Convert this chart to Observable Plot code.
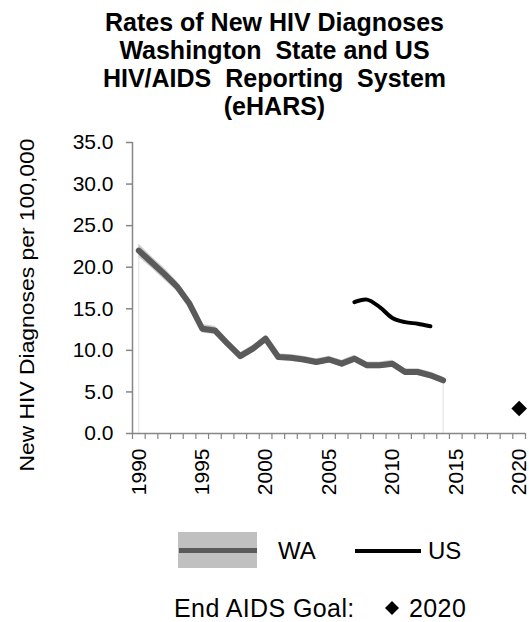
<!DOCTYPE html>
<html>
<head>
<meta charset="utf-8">
<script src="https://cdn.jsdelivr.net/npm/d3@7"></script>
<script src="https://cdn.jsdelivr.net/npm/@observablehq/plot@0.6"></script>
<style>
  html, body { margin: 0; padding: 0; background: #fff; overflow: hidden; }
  #wrap { position: relative; width: 529px; height: 622px; font-family: "Liberation Sans", Arial, sans-serif; color: #000; }
  #title { position: absolute; left: 10px; top: 8px; width: 529px; text-align: center; font-weight: bold; font-size: 25px; line-height: 28px; white-space: pre; }
  #chart { position: absolute; left: 0; top: 120px; }
  .leg { position: absolute; font-size: 24px; line-height: 24px; white-space: pre; }
  .leg2 { position: absolute; font-size: 25px; line-height: 25px; white-space: pre; letter-spacing: 0.4px; }
</style>
</head>
<body>
<div id="wrap">
  <div id="title"></div>
  <div id="chart"></div>
  <div id="legend"></div>
</div>
<script>
// ---- data ----
const titleLines = ["Rates of New HIV Diagnoses", "Washington  State and US", "HIV/AIDS  Reporting  System", "(eHARS)"];
const yLabel = "New HIV Diagnoses per 100,000";
const waYears = [1990,1991,1992,1993,1994,1995,1996,1997,1998,1999,2000,2001,2002,2003,2004,2005,2006,2007,2008,2009,2010,2011,2012,2013,2014];
const waRate  = [22.0,20.6,19.2,17.7,15.6,12.6,12.4,10.8,9.3,10.2,11.4,9.2,9.1,8.9,8.6,8.9,8.4,9.0,8.2,8.2,8.4,7.4,7.4,7.0,6.4];
const waLow   = [21.2,19.9,18.5,17.1,15.1,12.1,11.9,10.4,8.9,9.8,11.0,8.8,8.7,8.5,8.2,8.5,8.0,8.6,7.8,7.8,8.0,7.0,7.0,6.6,6.0];
const waHigh  = [22.8,21.3,19.9,18.3,16.1,13.1,12.9,11.2,9.7,10.6,11.8,9.6,9.5,9.3,9.0,9.3,8.8,9.4,8.6,8.6,8.8,7.8,7.8,7.4,6.8];
const usYears = [2007,2008,2009,2010,2011,2012,2013];
const usRate  = [15.8,16.1,15.2,13.9,13.4,13.2,12.9];
const goalYear = [2020];
const goalRate = [3.0];
const yTicks = [0,5,10,15,20,25,30,35];
const xTickLabels = [1990,1995,2000,2005,2010,2015,2020];
const legendLabels = {wa: "WA", us: "US", goal: "End AIDS Goal:", goalYear: "2020"};

// ---- tables ----
const wa = waYears.map((y, i) => ({year: y, rate: waRate[i], lo: waLow[i], hi: waHigh[i]}));
const us = usYears.map((y, i) => ({year: y, rate: usRate[i]}));
const goal = goalYear.map((y, i) => ({year: y, rate: goalRate[i]}));
const xMin = d3.min(waYears) - 0.5;
const xMax = d3.max(xTickLabels) + 0.5;
const boundaries = d3.range(xMin, xMax + 0.01, 1);
const waEnds = [wa[0], wa[wa.length - 1]];

document.getElementById("title").textContent = titleLines.join("\n");

const axisColor = "#868686";
const plot = Plot.plot({
  width: 529,
  height: 391,
  marginLeft: 132,
  marginRight: 4,
  marginTop: 22,
  marginBottom: 78,
  style: {fontFamily: "'Liberation Sans', Arial, sans-serif", fontSize: "21px", color: "#000", background: "#fff", overflow: "visible"},
  x: {domain: [xMin, xMax]},
  y: {domain: [0, 35]},
  marks: [
    Plot.areaY(wa, {x: "year", y1: "lo", y2: "hi", fill: "#c4c4c4", fillOpacity: 0.85}),
    Plot.ruleX(waEnds, {x: "year", y1: 0, y2: "lo", stroke: "#e2e2e2", strokeWidth: 1}),
    Plot.line(wa, {x: "year", y: "rate", stroke: "#5a5a5a", strokeWidth: 6, strokeLinejoin: "round", strokeLinecap: "round"}),
    Plot.line(us, {x: "year", y: "rate", stroke: "#000", strokeWidth: 4, curve: "catmull-rom", strokeLinecap: "round"}),
    Plot.dot(goal, {x: "year", y: "rate", symbol: "diamond2", r: 7, fill: "#000", stroke: "none"}),
    Plot.ruleY([0], {stroke: axisColor, strokeWidth: 1.5}),
    Plot.ruleX([xMin], {stroke: axisColor, strokeWidth: 1.5}),
    Plot.axisY({ticks: yTicks, tickFormat: d => d.toFixed(1), tickSize: 6, tickPadding: 13, stroke: axisColor, strokeWidth: 1.5, label: null}),
    Plot.axisX({ticks: boundaries, tickSize: 6, tickFormat: () => "", stroke: axisColor, strokeWidth: 1.2, label: null}),
    Plot.axisX({ticks: xTickLabels, tickSize: 0, tickPadding: 15, tickRotate: -90, tickFormat: d => String(d), label: null}),
    Plot.text([yLabel], {frameAnchor: "left", text: d => d, rotate: -90, dx: -105, dy: 17, fontSize: 21, fill: "#000", textAnchor: "middle"})
  ]
});
document.getElementById("chart").appendChild(plot);
// stretch y-label to reference length
d3.select(plot).selectAll("text").filter(function() { return this.textContent === yLabel; })
  .attr("textLength", 333).attr("lengthAdjust", "spacingAndGlyphs");

// ---- legend (HTML) ----
const legend = document.getElementById("legend");
legend.innerHTML = `
  <div style="position:absolute;left:178px;top:532px;width:79px;height:36px;background:#c0c0c0"></div>
  <div style="position:absolute;left:179px;top:548px;width:78px;height:5px;background:#5a5a5a"></div>
  <div class="leg" style="left:278px;top:539px">${legendLabels.wa}</div>
  <div style="position:absolute;left:355px;top:549px;width:66px;height:4px;background:#000"></div>
  <div class="leg" style="left:428px;top:539px">${legendLabels.us}</div>
  <div class="leg2" style="left:174px;top:596px">${legendLabels.goal}</div>
  <svg style="position:absolute;left:384px;top:600px" width="16" height="16"><path d="M8,1L15,8L8,15L1,8Z" fill="#000"/></svg>
  <div class="leg2" style="left:409px;top:596px">${legendLabels.goalYear}</div>
`;
</script>
</body>
</html>
